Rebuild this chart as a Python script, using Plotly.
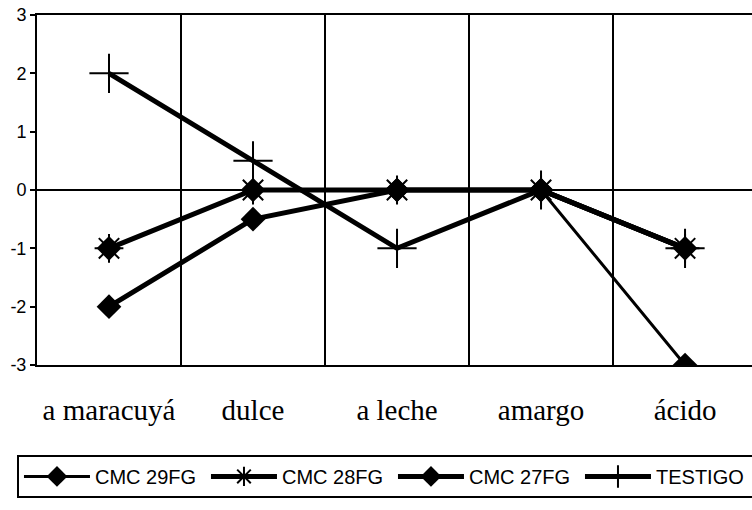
import plotly.graph_objects as go

# Sensory attributes (x categories)
categories = ["a maracuyá", "dulce", "a leche", "amargo", "ácido"]

# Scores per formulation
cmc_29fg = [-1, 0, 0, 0, -3]
cmc_28fg = [-1, 0, 0, 0, -1]
cmc_27fg = [-2, -0.5, 0, 0, -1]
testigo = [2, 0.5, -1, 0, -1]

y_ticks = [-3, -2, -1, 0, 1, 2, 3]

sans = "Liberation Sans Narrow, Arial Narrow, Liberation Sans, Arial, sans-serif"
serif = "Liberation Serif, Times New Roman, serif"

fig = go.Figure()

fig.add_trace(go.Scatter(
    x=categories, y=cmc_29fg, name="CMC 29FG", mode="lines+markers",
    line=dict(color="black", width=3),
    marker=dict(symbol="diamond", size=19, color="black"),
))
fig.add_trace(go.Scatter(
    x=categories, y=cmc_28fg, name="CMC 28FG", mode="lines+markers",
    line=dict(color="black", width=5),
    marker=dict(symbol="asterisk-open", size=24, color="black",
                line=dict(color="black", width=2)),
))
fig.add_trace(go.Scatter(
    x=categories, y=cmc_27fg, name="CMC 27FG", mode="lines+markers",
    line=dict(color="black", width=5),
    marker=dict(symbol="diamond", size=19, color="black"),
))
fig.add_trace(go.Scatter(
    x=categories, y=testigo, name="TESTIGO", mode="lines+markers",
    line=dict(color="black", width=5),
    marker=dict(symbol="cross-thin-open", size=28, color="black",
                line=dict(color="black", width=2)),
))

fig.update_layout(
    width=752, height=510,
    margin=dict(l=37, r=0, t=15, b=145, autoexpand=False),
    paper_bgcolor="white", plot_bgcolor="white",
    showlegend=True,
    legend=dict(
        orientation="h",
        x=-0.028, xanchor="left",
        y=-0.257, yanchor="top",
        bordercolor="black", borderwidth=2,
        bgcolor="white",
        font=dict(family=sans, size=20, color="black"),
        entrywidth=106, entrywidthmode="pixels",
        itemwidth=66,
    ),
)

fig.update_xaxes(
    type="category",
    range=[-0.5, 4.465],
    tickson="boundaries",
    showgrid=True, gridcolor="black", gridwidth=1.5,
    showline=True, linecolor="black", linewidth=2, mirror=True,
    ticks="",
    ticklabelstandoff=18,
    tickfont=dict(family=serif, size=29, color="black"),
    zeroline=False,
)

fig.update_yaxes(
    range=[-3, 3],
    tickvals=y_ticks,
    ticktext=[str(v) for v in y_ticks],
    showgrid=False,
    zeroline=True, zerolinecolor="black", zerolinewidth=2,
    showline=True, linecolor="black", linewidth=2,
    ticks="outside", ticklen=5, tickwidth=2, tickcolor="black",
    tickfont=dict(family=sans, size=18, color="black"),
)

fig.write_html("out.html")
